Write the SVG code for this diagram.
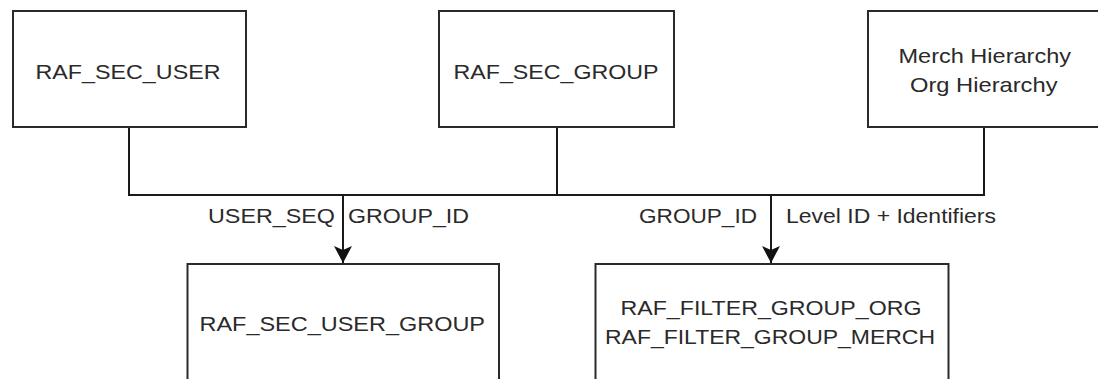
<svg xmlns="http://www.w3.org/2000/svg" width="1098" height="379" viewBox="0 0 1098 379">
<style>
.box{fill:#fff;stroke:#2a2a2a;stroke-width:2}
.t{font-family:"Liberation Sans",Arial,sans-serif;font-size:21px;fill:#2a2a2a}
.c{text-anchor:middle}
.ln{fill:none;stroke:#1a1a1a;stroke-width:2}
</style>
<defs>
<marker id="arr" markerWidth="20" markerHeight="20" refX="18" refY="9" orient="auto" markerUnits="userSpaceOnUse">
<path d="M18,9 L1,0 L5,9 L1,18 Z" fill="#111"/>
</marker>
</defs>
<rect width="1098" height="379" fill="#fff"/>
<g id="connectors">
<path class="ln" d="M129,127 V195 H984 V127"/>
<path class="ln" d="M557,127 V195"/>
<path class="ln" d="M343,195 V263" marker-end="url(#arr)"/>
<path class="ln" d="M771,195 V263" marker-end="url(#arr)"/>
<text class="t" x="208" y="222.5" textLength="127" lengthAdjust="spacingAndGlyphs">USER_SEQ</text>
<text class="t" x="348" y="222.5" textLength="121" lengthAdjust="spacingAndGlyphs">GROUP_ID</text>
<text class="t" x="639" y="222.5" textLength="118" lengthAdjust="spacingAndGlyphs">GROUP_ID</text>
<text class="t" x="786" y="222.5" textLength="210" lengthAdjust="spacingAndGlyphs">Level ID + Identifiers</text>
</g>
<g id="raf_sec_user">
<rect class="box" x="13" y="11" width="233" height="116"/>
<text class="t" x="35.5" y="79" textLength="185" lengthAdjust="spacingAndGlyphs">RAF_SEC_USER</text>
</g>
<g id="raf_sec_group">
<rect class="box" x="439" y="11" width="235" height="116"/>
<text class="t" x="453.5" y="78.7" textLength="205" lengthAdjust="spacingAndGlyphs">RAF_SEC_GROUP</text>
</g>
<g id="hierarchy">
<rect class="box" x="868" y="11" width="240" height="116"/>
<text class="t" x="898.5" y="63.3" textLength="172.5" lengthAdjust="spacingAndGlyphs">Merch Hierarchy</text>
<text class="t" x="910" y="91.7" textLength="147.5" lengthAdjust="spacingAndGlyphs">Org Hierarchy</text>
</g>
<g id="raf_sec_user_group">
<rect class="box" x="187.5" y="264" width="311.5" height="130"/>
<text class="t" x="199.5" y="330.7" textLength="285.5" lengthAdjust="spacingAndGlyphs">RAF_SEC_USER_GROUP</text>
</g>
<g id="raf_filter_group">
<rect class="box" x="595.5" y="264" width="353" height="130"/>
<text class="t" x="620.5" y="315" textLength="301" lengthAdjust="spacingAndGlyphs">RAF_FILTER_GROUP_ORG</text>
<text class="t" x="605" y="344.3" textLength="330" lengthAdjust="spacingAndGlyphs">RAF_FILTER_GROUP_MERCH</text>
</g>
</svg>
